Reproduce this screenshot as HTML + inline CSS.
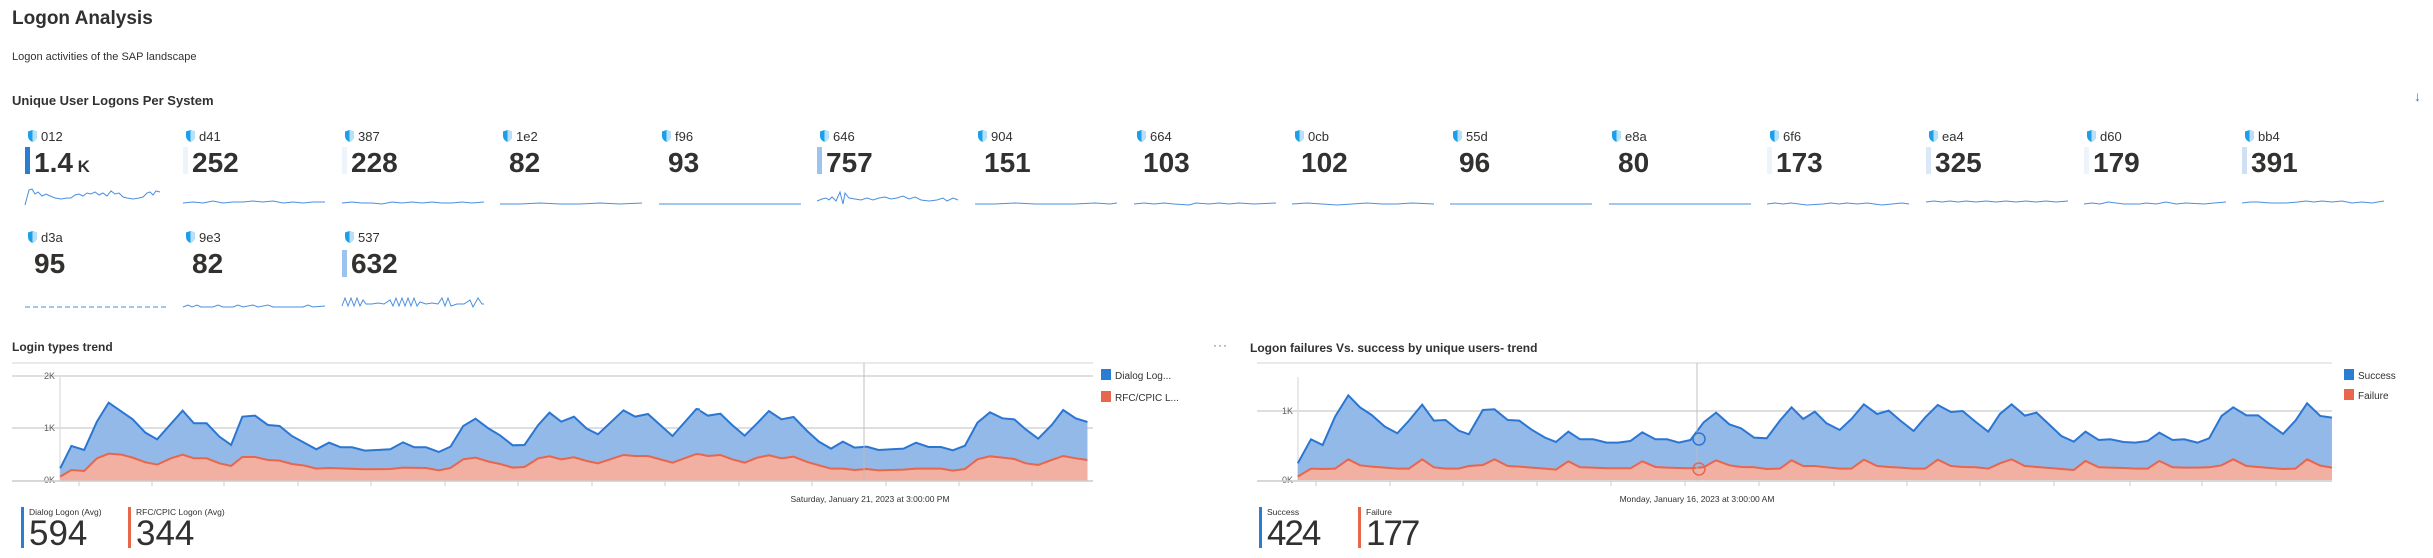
<!DOCTYPE html>
<html><head><meta charset="utf-8"><style>
body{margin:0;width:2433px;height:558px;background:#fff;font-family:"Liberation Sans",sans-serif;color:#323130;position:relative;overflow:hidden}
.a{position:absolute;white-space:nowrap}
.lbl{font-size:13px;line-height:14px}
.num{font-size:28px;line-height:28px;font-weight:600;letter-spacing:-0.5px}
.bar{position:absolute;width:5px;height:27px}
</style></head><body>
<div class="a" style="left:12px;top:8px;font-size:19px;font-weight:bold">Logon Analysis</div>
<div class="a" style="left:12px;top:51px;font-size:11px">Logon activities of the SAP landscape</div>
<div class="a" style="left:12px;top:93px;font-size:13px;font-weight:600">Unique User Logons Per System</div>
<div class="a" style="left:2414px;top:88px;font-size:14px;color:#2b7cd3">&#8595;</div>
<div id="tiles"></div>

<!-- tiles -->
<svg width="0" height="0" style="position:absolute"><defs><g id="sh"><path d="M4.5 0 L9 1.5 L9 6 Q9 10 4.5 12 Q0 10 0 6 L0 1.5 Z" fill="#1a9fe8"/><path d="M4.5 0 L9 1.5 L9 6 Q9 10 4.5 12 Z" fill="#b9e0f8"/></g></defs></svg>

<div class="a" style="left:25px;top:147px;width:5px;height:27px;background:#2b7cd3"></div>
<div class="a" style="left:183px;top:147px;width:5px;height:27px;background:#eef4fc"></div>
<div class="a" style="left:342px;top:147px;width:5px;height:27px;background:#eef4fc"></div>
<div class="a" style="left:817px;top:147px;width:5px;height:27px;background:#9cc3ee"></div>
<div class="a" style="left:1767px;top:147px;width:5px;height:27px;background:#eef4fc"></div>
<div class="a" style="left:1926px;top:147px;width:5px;height:27px;background:#dbe8f8"></div>
<div class="a" style="left:2084px;top:147px;width:5px;height:27px;background:#eef4fc"></div>
<div class="a" style="left:2242px;top:147px;width:5px;height:27px;background:#cfe0f5"></div>
<div class="a" style="left:342px;top:250px;width:5px;height:27px;background:#9cc3ee"></div>

<svg class="a" style="left:0;top:0" width="2433" height="320">
<g font-family="Liberation Sans" font-size="13" fill="#323130">
<!-- row1 -->
<g transform="translate(25,0)"><use href="#sh" x="3" y="130"/><text x="16" y="141">012</text><text x="9" y="172" font-size="28" font-weight="600">1.4<tspan font-size="17"> K</tspan></text>
<polyline fill="none" stroke="#4a8fe0" stroke-width="1" points="0,205 4,190 7,189 10,194 13,192 17,196 21,194 25,196 30,198 36,199 42,198 46,198 50,195 54,194 58,196 62,193 66,194 70,192 74,195 78,193 82,196 86,191 90,194 94,193 98,197 102,198 108,199 114,198 118,197 122,193 125,192 128,195 131,191 135,192"/></g>
<g transform="translate(183,0)"><use href="#sh" x="3" y="130"/><text x="16" y="141">d41</text><text x="9" y="172" font-size="28" font-weight="600">252</text>
<polyline fill="none" stroke="#4a8fe0" points="0,203 10,202 20,203 30,201 40,203 50,202 60,202 70,201 80,202 90,201 100,203 110,202 120,203 130,202 142,202"/></g>
<g transform="translate(342,0)"><use href="#sh" x="3" y="130"/><text x="16" y="141">387</text><text x="9" y="172" font-size="28" font-weight="600">228</text>
<polyline fill="none" stroke="#4a8fe0" points="0,203 10,202 20,203 30,203 40,204 50,202 60,203 70,202 80,203 90,202 100,203 110,203 120,202 130,203 142,202"/></g>
<g transform="translate(500,0)"><use href="#sh" x="3" y="130"/><text x="16" y="141">1e2</text><text x="9" y="172" font-size="28" font-weight="600">82</text>
<polyline fill="none" stroke="#4a8fe0" points="0,204 20,204 40,203 60,204 80,204 100,203 120,204 142,203"/></g>
<g transform="translate(659,0)"><use href="#sh" x="3" y="130"/><text x="16" y="141">f96</text><text x="9" y="172" font-size="28" font-weight="600">93</text>
<polyline fill="none" stroke="#4a8fe0" points="0,204 30,204 60,204 90,204 120,204 142,204"/></g>
<g transform="translate(817,0)"><use href="#sh" x="3" y="130"/><text x="16" y="141">646</text><text x="9" y="172" font-size="28" font-weight="600">757</text>
<polyline fill="none" stroke="#4a8fe0" points="0,201 5,199 9,198 12,200 15,197 19,201 23,192 26,204 28,193 32,198 38,199 44,200 50,198 56,200 62,198 68,197 74,199 80,198 86,196 92,199 98,197 104,200 112,201 120,200 126,198 130,201 136,198 141,200"/></g>
<g transform="translate(975,0)"><use href="#sh" x="3" y="130"/><text x="16" y="141">904</text><text x="9" y="172" font-size="28" font-weight="600">151</text>
<polyline fill="none" stroke="#4a8fe0" points="0,204 20,204 40,203 60,204 80,204 100,204 120,203 135,204 142,203"/></g>
<g transform="translate(1134,0)"><use href="#sh" x="3" y="130"/><text x="16" y="141">664</text><text x="9" y="172" font-size="28" font-weight="600">103</text>
<polyline fill="none" stroke="#4a8fe0" points="0,204 10,203 20,204 30,203 40,204 55,205 62,203 75,204 85,203 95,204 105,203 120,204 142,203"/></g>
<g transform="translate(1292,0)"><use href="#sh" x="3" y="130"/><text x="16" y="141">0cb</text><text x="9" y="172" font-size="28" font-weight="600">102</text>
<polyline fill="none" stroke="#4a8fe0" points="0,204 15,203 30,204 45,205 60,204 75,203 90,204 105,204 120,203 142,204"/></g>
<g transform="translate(1450,0)"><use href="#sh" x="3" y="130"/><text x="16" y="141">55d</text><text x="9" y="172" font-size="28" font-weight="600">96</text>
<polyline fill="none" stroke="#4a8fe0" points="0,204 142,204"/></g>
<g transform="translate(1609,0)"><use href="#sh" x="3" y="130"/><text x="16" y="141">e8a</text><text x="9" y="172" font-size="28" font-weight="600">80</text>
<polyline fill="none" stroke="#4a8fe0" points="0,204 142,204"/></g>
<g transform="translate(1767,0)"><use href="#sh" x="3" y="130"/><text x="16" y="141">6f6</text><text x="9" y="172" font-size="28" font-weight="600">173</text>
<polyline fill="none" stroke="#4a8fe0" points="0,204 8,203 16,204 24,203 40,205 56,204 64,203 72,204 80,203 90,204 100,203 115,205 125,204 135,203 142,204"/></g>
<g transform="translate(1926,0)"><use href="#sh" x="3" y="130"/><text x="16" y="141">ea4</text><text x="9" y="172" font-size="28" font-weight="600">325</text>
<polyline fill="none" stroke="#4a8fe0" points="0,202 8,201 16,202 24,201 32,202 40,201 50,202 60,201 70,202 80,201 90,202 100,201 110,202 120,201 130,202 142,201"/></g>
<g transform="translate(2084,0)"><use href="#sh" x="3" y="130"/><text x="16" y="141">d60</text><text x="9" y="172" font-size="28" font-weight="600">179</text>
<polyline fill="none" stroke="#4a8fe0" points="0,204 8,203 16,204 24,202 40,204 56,204 62,203 72,204 82,202 92,204 102,203 120,204 130,203 142,202"/></g>
<g transform="translate(2242,0)"><use href="#sh" x="3" y="130"/><text x="16" y="141">bb4</text><text x="9" y="172" font-size="28" font-weight="600">391</text>
<polyline fill="none" stroke="#4a8fe0" points="0,203 8,202 16,202 28,203 44,203 56,202 64,201 72,202 80,201 90,202 100,201 110,203 120,202 130,203 142,201"/></g>
<!-- row2 -->
<g transform="translate(25,101)"><use href="#sh" x="3" y="130"/><text x="16" y="141">d3a</text><text x="9" y="172" font-size="28" font-weight="600">95</text>
<polyline fill="none" stroke="#4a8fe0" stroke-dasharray="5,3" points="0,206 142,206"/></g>
<g transform="translate(183,101)"><use href="#sh" x="3" y="130"/><text x="16" y="141">9e3</text><text x="9" y="172" font-size="28" font-weight="600">82</text>
<polyline fill="none" stroke="#4a8fe0" points="0,206 5,204 9,206 14,204 18,206 30,206 35,204 40,206 50,206 55,204 60,206 70,204 75,206 85,204 90,206 100,206 110,206 120,206 125,204 130,206 142,205"/></g>
<g transform="translate(342,101)"><use href="#sh" x="3" y="130"/><text x="16" y="141">537</text><text x="9" y="172" font-size="28" font-weight="600">632</text>
<polyline fill="none" stroke="#4a8fe0" points="0,205 3,197 6,205 9,197 12,205 15,197 18,205 21,199 24,203 30,203 36,202 42,203 48,199 51,205 54,197 57,205 60,197 63,205 66,197 69,205 72,197 75,205 78,201 84,203 90,202 96,203 100,197 103,205 106,197 109,205 115,203 122,203 128,199 131,206 136,197 140,203 142,203"/></g>
</g>
</svg>

<!-- Left chart -->
<div class="a" style="left:12px;top:340px;font-size:12px;font-weight:600">Login types trend</div>
<div class="a" style="left:1213px;top:338px;font-size:12px;color:#605e5c;letter-spacing:1px">···</div>
<svg class="a" style="left:0;top:0" width="2433" height="558">
<g stroke="#ddd" stroke-width="1.3">
<line x1="12" y1="363" x2="1093" y2="363"/><line x1="12" y1="376" x2="1093" y2="376" stroke="#ccc"/><line x1="12" y1="428" x2="1093" y2="428" stroke="#ccc"/>
<line x1="60" y1="376" x2="60" y2="481"/>
<line x1="1257" y1="363" x2="2332" y2="363"/><line x1="1257" y1="411" x2="2332" y2="411" stroke="#ccc"/>
<line x1="1298" y1="377" x2="1298" y2="481"/>
</g>
<g font-size="9" fill="#605e5c" font-family="Liberation Sans">
<text x="44" y="379">2K</text><text x="44" y="431">1K</text><text x="44" y="483">0K</text>
<text x="1282" y="414">1K</text><text x="1282" y="483">0K</text>
<text x="870" y="502" text-anchor="middle" font-size="8.5" fill="#323130">Saturday, January 21, 2023 at 3:00:00 PM</text>
<text x="1697" y="502" text-anchor="middle" font-size="8.5" fill="#323130">Monday, January 16, 2023 at 3:00:00 AM</text>
</g>
<!-- left series -->
<g transform="translate(0,210) scale(0.5102,0.3333)">
<polygon fill="#93b9e8" points="118,812 118,775 140,708 165,720 190,635 213,578 260,628 285,668 308,688 358,602 380,640 405,640 430,680 453,705 475,620 500,617 525,645 548,648 572,678 620,718 645,698 668,712 690,712 715,722 765,718 790,697 812,712 835,712 860,726 883,710 908,648 932,626 958,656 980,676 1005,706 1028,705 1055,645 1077,608 1100,635 1125,620 1150,656 1172,673 1222,601 1245,620 1270,612 1318,678 1365,597 1372,599 1372,812"/>
<polyline fill="none" stroke="#2a76d2" stroke-width="2" vector-effect="non-scaling-stroke" points="118,775 140,708 165,720 190,635 213,578 260,628 285,668 308,688 358,602 380,640 405,640 430,680 453,705 475,620 500,617 525,645 548,648 572,678 620,718 645,698 668,712 690,712 715,722 765,718 790,697 812,712 835,712 860,726 883,710 908,648 932,626 958,656 980,676 1005,706 1028,705 1055,645 1077,608 1100,635 1125,620 1150,656 1172,673 1222,601 1245,620 1270,612 1318,678 1365,597 1372,599"/>
<polygon fill="#f2b0a2" points="118,812 118,800 140,780 165,783 190,745 213,731 238,734 260,743 285,757 308,764 335,745 358,734 380,745 405,745 430,760 453,768 475,741 500,741 525,750 548,752 572,762 597,767 620,776 645,774 715,778 765,777 790,773 835,774 860,781 883,774 908,748 932,743 958,755 980,762 1005,773 1028,771 1055,745 1077,739 1100,748 1125,742 1150,753 1172,760 1222,735 1245,738 1270,738 1318,758 1365,732 1372,733 1372,812"/>
<polyline fill="none" stroke="#e8664c" stroke-width="2" vector-effect="non-scaling-stroke" points="118,800 140,780 165,783 190,745 213,731 238,734 260,743 285,757 308,764 335,745 358,734 380,745 405,745 430,760 453,768 475,741 500,741 525,750 548,752 572,762 597,767 620,776 645,774 715,778 765,777 790,773 835,774 860,781 883,774 908,748 932,743 958,755 980,762 1005,773 1028,771 1055,745 1077,739 1100,748 1125,742 1150,753 1172,760 1222,735 1245,738 1270,738 1318,758 1365,732 1372,733"/>
</g>
<g transform="translate(700,330) scale(0.3571,0.3333)">
<polygon fill="#93b9e8" points="0,452 0,242 22,257 57,251 90,285 125,317 160,280 193,243 228,268 262,261 300,303 333,335 367,356 400,335 433,353 467,350 500,360 570,356 605,338 640,351 675,351 708,361 742,347 777,278 812,247 847,265 880,268 912,298 947,326 985,285 1017,240 1052,265 1085,276 1085,452"/>
<polyline fill="none" stroke="#2a76d2" stroke-width="2" vector-effect="non-scaling-stroke" points="0,242 22,257 57,251 90,285 125,317 160,280 193,243 228,268 262,261 300,303 333,335 367,356 400,335 433,353 467,350 500,360 570,356 605,338 640,351 675,351 708,361 742,347 777,278 812,247 847,265 880,268 912,298 947,326 985,285 1017,240 1052,265 1085,276"/>
<polygon fill="#f2b0a2" points="0,452 0,373 22,378 57,375 90,388 125,398 160,383 193,376 228,385 262,380 300,396 333,406 367,416 400,416 433,420 467,417 500,421 570,419 605,416 640,416 675,416 708,422 742,417 777,388 812,379 847,383 880,387 912,400 947,405 985,390 1017,378 1052,385 1085,390 1085,452"/>
<polyline fill="none" stroke="#e8664c" stroke-width="2" vector-effect="non-scaling-stroke" points="0,373 22,378 57,375 90,388 125,398 160,383 193,376 228,385 262,380 300,396 333,406 367,416 400,416 433,420 467,417 500,421 570,419 605,416 640,416 675,416 708,422 742,417 777,388 812,379 847,383 880,387 912,400 947,405 985,390 1017,378 1052,385 1085,390"/>
</g>
<!-- right series -->
<g transform="translate(1220,210) scale(0.7776,0.3333)">
<polygon fill="#93b9e8" points="100,810 100,760 117,688 132,705 148,620 165,556 180,592 195,615 212,650 228,670 243,632 260,584 275,632 290,630 307,662 320,673 338,600 353,598 370,630 385,632 400,658 418,683 432,696 448,665 463,688 480,688 497,698 512,698 528,693 543,667 560,688 575,688 590,698 605,690 622,637 638,608 655,643 670,655 687,683 703,685 720,632 735,592 750,627 765,605 780,640 797,660 812,627 828,583 845,612 860,602 875,632 892,663 907,622 923,585 940,606 955,603 972,636 988,665 1003,612 1018,583 1035,617 1050,608 1067,645 1082,678 1098,695 1113,665 1130,690 1145,688 1162,696 1177,698 1193,693 1208,668 1225,690 1240,688 1257,698 1272,685 1288,618 1303,592 1320,616 1335,616 1350,643 1367,672 1383,632 1398,580 1415,618 1430,623 1430,810"/>
<polyline fill="none" stroke="#2a76d2" stroke-width="2" vector-effect="non-scaling-stroke" points="100,760 117,688 132,705 148,620 165,556 180,592 195,615 212,650 228,670 243,632 260,584 275,632 290,630 307,662 320,673 338,600 353,598 370,630 385,632 400,658 418,683 432,696 448,665 463,688 480,688 497,698 512,698 528,693 543,667 560,688 575,688 590,698 605,690 622,637 638,608 655,643 670,655 687,683 703,685 720,632 735,592 750,627 765,605 780,640 797,660 812,627 828,583 845,612 860,602 875,632 892,663 907,622 923,585 940,606 955,603 972,636 988,665 1003,612 1018,583 1035,617 1050,608 1067,645 1082,678 1098,695 1113,665 1130,690 1145,688 1162,696 1177,698 1193,693 1208,668 1225,690 1240,688 1257,698 1272,685 1288,618 1303,592 1320,616 1335,616 1350,643 1367,672 1383,632 1398,580 1415,618 1430,623"/>
<polygon fill="#f2b0a2" points="100,810 100,800 117,776 132,777 148,776 165,748 180,766 195,770 212,773 228,776 243,776 260,748 275,772 290,776 307,776 320,768 338,765 353,748 370,768 385,770 400,773 418,776 432,779 448,754 463,772 480,773 497,775 512,775 528,775 543,754 560,771 575,773 590,774 605,775 622,772 638,751 655,766 670,771 687,772 703,777 720,776 735,751 750,768 765,768 780,772 797,776 812,776 828,749 845,768 860,771 875,773 892,776 907,776 923,749 940,768 955,771 972,772 988,776 1003,760 1018,748 1035,768 1050,771 1067,774 1082,777 1098,780 1113,753 1130,772 1145,773 1162,774 1177,776 1193,776 1208,753 1225,772 1240,773 1257,773 1272,772 1288,766 1303,748 1320,768 1335,771 1350,774 1367,777 1383,776 1398,748 1415,767 1430,773 1430,810"/>
<polyline fill="none" stroke="#e8664c" stroke-width="2" vector-effect="non-scaling-stroke" points="100,800 117,776 132,777 148,776 165,748 180,766 195,770 212,773 228,776 243,776 260,748 275,772 290,776 307,776 320,768 338,765 353,748 370,768 385,770 400,773 418,776 432,779 448,754 463,772 480,773 497,775 512,775 528,775 543,754 560,771 575,773 590,774 605,775 622,772 638,751 655,766 670,771 687,772 703,777 720,776 735,751 750,768 765,768 780,772 797,776 812,776 828,749 845,768 860,771 875,773 892,776 907,776 923,749 940,768 955,771 972,772 988,776 1003,760 1018,748 1035,768 1050,771 1067,774 1082,777 1098,780 1113,753 1130,772 1145,773 1162,774 1177,776 1193,776 1208,753 1225,772 1240,773 1257,773 1272,772 1288,766 1303,748 1320,768 1335,771 1350,774 1367,777 1383,776 1398,748 1415,767 1430,773"/>
</g>
<!-- hover lines, axes, ticks -->
<line x1="864" y1="363" x2="864" y2="481" stroke="#bbb" stroke-opacity="0.6" stroke-width="1.5"/>
<line x1="1697" y1="363" x2="1697" y2="481" stroke="#bbb" stroke-opacity="0.6" stroke-width="1.5"/>
<circle cx="1699" cy="439" r="6" fill="none" stroke="#2a76d2" stroke-width="1.5"/>
<circle cx="1699" cy="469" r="6" fill="none" stroke="#e8664c" stroke-width="1.5"/>
<line x1="12" y1="481" x2="1093" y2="481" stroke="#ccc" stroke-width="1.5"/>
<line x1="1257" y1="481" x2="2332" y2="481" stroke="#ccc" stroke-width="1.5"/>
<g stroke="#ccc">
<line x1="79" y1="481" x2="79" y2="486"/><line x1="152" y1="481" x2="152" y2="486"/><line x1="224" y1="481" x2="224" y2="486"/><line x1="298" y1="481" x2="298" y2="486"/><line x1="371" y1="481" x2="371" y2="486"/><line x1="445" y1="481" x2="445" y2="486"/><line x1="518" y1="481" x2="518" y2="486"/><line x1="592" y1="481" x2="592" y2="486"/><line x1="665" y1="481" x2="665" y2="486"/><line x1="739" y1="481" x2="739" y2="486"/><line x1="739" y1="481" x2="739" y2="486"/><line x1="886" y1="481" x2="886" y2="486"/><line x1="959" y1="481" x2="959" y2="486"/><line x1="1032" y1="481" x2="1032" y2="486"/><line x1="812" y1="481" x2="812" y2="486"/>
<line x1="1316" y1="481" x2="1316" y2="486"/><line x1="1390" y1="481" x2="1390" y2="486"/><line x1="1463" y1="481" x2="1463" y2="486"/><line x1="1537" y1="481" x2="1537" y2="486"/><line x1="1611" y1="481" x2="1611" y2="486"/><line x1="1685" y1="481" x2="1685" y2="486"/><line x1="1759" y1="481" x2="1759" y2="486"/><line x1="1834" y1="481" x2="1834" y2="486"/><line x1="1907" y1="481" x2="1907" y2="486"/><line x1="1980" y1="481" x2="1980" y2="486"/><line x1="2054" y1="481" x2="2054" y2="486"/><line x1="2130" y1="481" x2="2130" y2="486"/><line x1="2202" y1="481" x2="2202" y2="486"/><line x1="2276" y1="481" x2="2276" y2="486"/>
</g>
<!-- legends -->
<g font-family="Liberation Sans" font-size="10" fill="#323130">
<rect x="1101" y="369" width="10" height="11" fill="#2b7cd3"/><text x="1115" y="379">Dialog Log...</text>
<rect x="1101" y="391" width="10" height="11" fill="#e8664c"/><text x="1115" y="401">RFC/CPIC L...</text>
<rect x="2344" y="369" width="10" height="11" fill="#2b7cd3"/><text x="2358" y="379">Success</text>
<rect x="2344" y="389" width="10" height="11" fill="#e8664c"/><text x="2358" y="399">Failure</text>
</g>
</svg>
<div class="a" style="left:1250px;top:341px;font-size:12px;font-weight:600">Logon failures Vs. success by unique users- trend</div>

<!-- stats -->
<div class="a" style="left:21px;top:507px;width:3px;height:41px;background:#2b7cd3"></div>
<div class="a" style="left:29px;top:507px;font-size:8.5px">Dialog Logon (Avg)</div>
<div class="a" style="left:29px;top:516px;font-size:35px;line-height:36px">594</div>
<div class="a" style="left:128px;top:507px;width:3px;height:41px;background:#e8664c"></div>
<div class="a" style="left:136px;top:507px;font-size:8.5px">RFC/CPIC Logon (Avg)</div>
<div class="a" style="left:136px;top:516px;font-size:35px;line-height:36px">344</div>
<div class="a" style="left:1259px;top:507px;width:3px;height:41px;background:#2b7cd3"></div>
<div class="a" style="left:1267px;top:507px;font-size:8.5px">Success</div>
<div class="a" style="left:1267px;top:516px;font-size:35px;line-height:36px;letter-spacing:-2px">424</div>
<div class="a" style="left:1358px;top:507px;width:3px;height:41px;background:#e8664c"></div>
<div class="a" style="left:1366px;top:507px;font-size:8.5px">Failure</div>
<div class="a" style="left:1366px;top:516px;font-size:35px;line-height:36px;letter-spacing:-2px">177</div>
</body></html>
